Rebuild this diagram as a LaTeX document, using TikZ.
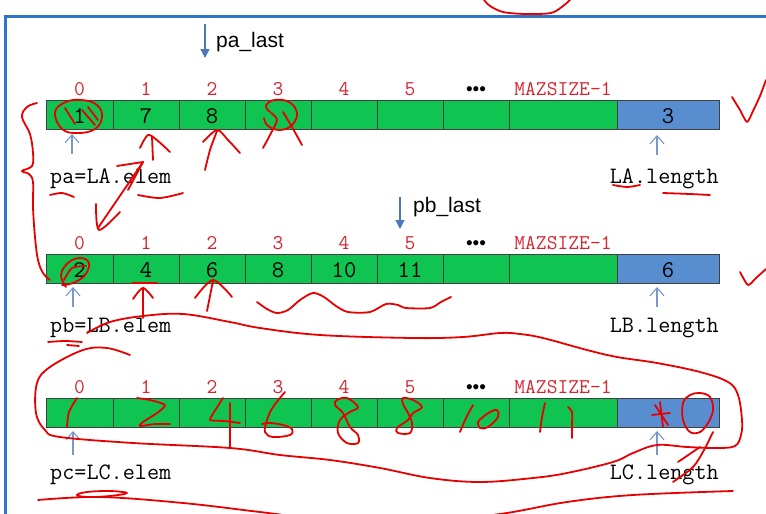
\documentclass[tikz,border=0pt]{standalone}
\usepackage{fontspec}
\setmainfont{Liberation Serif}
\newfontfamily\labelsans{Liberation Sans}
\usetikzlibrary{arrows.meta}

\definecolor{cellgreen}{RGB}{16,196,82}
\definecolor{cellblue}{RGB}{88,141,208}
\definecolor{idxred}{RGB}{214,36,48}
\definecolor{inkred}{RGB}{232,0,0}
\definecolor{framebl}{RGB}{46,117,200}
\definecolor{ptrblue}{RGB}{74,120,184}
\definecolor{upblue}{RGB}{120,152,204}

\tikzset{
  cell/.style={draw=black!75, line width=0.6pt, inner sep=0pt, minimum height=29pt,
    text height=18pt, text depth=0pt, font=\ttfamily\fontsize{24}{24}\selectfont},
  greencell/.style={cell, fill=cellgreen},
  lencell/.style={cell, fill=cellblue, minimum width=102pt},
  idx/.style={text=idxred, font=\ttfamily\fontsize{21}{21}\selectfont, anchor=base, inner sep=0pt},
  dots/.style={font=\labelsans\fontsize{19}{19}\selectfont, inner sep=0pt},
  lbl/.style={font=\ttfamily\fontsize{23.5}{23.5}\selectfont, anchor=base west, inner sep=0pt},
  lenlbl/.style={lbl, anchor=base east},
  ptr/.style={draw=ptrblue, line width=1.4pt, -{Triangle[length=9pt,width=9pt]}},
  ptrtext/.style={font=\labelsans\fontsize{21}{21}\selectfont, anchor=base west, inner sep=0pt},
  uparrow/.style={draw=upblue, line width=1.1pt, -{Straight Barb[length=8pt,width=14pt]}},
  ink/.style={draw=inkred, line width=1.8pt, line cap=round, line join=round},
}

\begin{document}
\begin{tikzpicture}[x=1pt,y=-1pt]
\useasboundingbox[fill=white] (0,0) rectangle (766,514);

% slide frame
\draw[framebl, line width=3pt] (5,514) -- (5,16) -- (766,16);

% the three arrays: LA, LB, LC
\foreach \i/\xl/\xr/\va/\vb in {0/46/113/1/2, 1/113/179/7/4, 2/179/245/8/6, 3/245/311/{}/8,
    4/311/377/{}/10, 5/377/443/{}/11, 6/443/509/{}/{}, 7/509/617/{}/{}}{
  \node[greencell, minimum width={(\xr-\xl)*1pt}] (A\i) at ({(\xl+\xr)/2},114.5) {\va};
  \node[greencell, minimum width={(\xr-\xl)*1pt}] (B\i) at ({(\xl+\xr)/2},268.5) {\vb};
  \node[greencell, minimum width={(\xr-\xl)*1pt}] (C\i) at ({(\xl+\xr)/2},412.5) {};
}
\node[lencell] (Alen) at (668,114.5) {3};
\node[lencell] (Blen) at (668,268.5) {6};
\node[lencell] (Clen) at (668,412.5) {};

% index labels above the cells
\foreach \r/\y in {A/95, B/249, C/393}{
  \foreach \i/\xc in {0/79.5, 1/146, 2/212, 3/278, 4/344, 5/410}{
    \node[idx] (\r idx\i) at (\xc,\y) {\i};
  }
  \node[dots] (\r dots) at (476,{\y-4}) {•••};
  \node[idx] (\r idxmax) at (563,\y) {MAZSIZE-1};
}

% last-element pointers
\coordinate (palast from) at (205,24);
\coordinate (palast to) at (205,58);
\draw[ptr] (palast from) -- (palast to);
\node[ptrtext] (palast) at (216,47) {pa\_last};
\coordinate (pblast from) at (400,197);
\coordinate (pblast to) at (400,229);
\draw[ptr] (pblast from) -- (pblast to);
\node[ptrtext] (pblast) at (413,212) {pb\_last};

% element pointers and lengths
\node[lbl] (pa) at (50,183) {pa=LA.elem};
\node[lenlbl] (lalen) at (719,183) {LA.length};
\node[lbl] (pb) at (50,332) {pb=LB.elem};
\node[lenlbl] (lblen) at (719,332) {LB.length};
\node[lbl] (pc) at (50,479) {pc=LC.elem};
\node[lenlbl] (lclen) at (719,479) {LC.length};

\coordinate (pa from) at (72,154);  \coordinate (pa to) at (72,134);
\coordinate (la from) at (657,155); \coordinate (la to) at (657,135);
\coordinate (pb from) at (73,307);  \coordinate (pb to) at (73,287);
\coordinate (lb from) at (657,307); \coordinate (lb to) at (657,287);
\coordinate (pc from) at (73,455);  \coordinate (pc to) at (73,431);
\coordinate (lc from) at (657,455); \coordinate (lc to) at (657,431);
\foreach \p in {pa,la,pb,lb,pc,lc}{
  \draw[uparrow] (\p\space from) -- (\p\space to);
}

% handwritten red notes
\begin{scope}
\clip (0,0) rectangle (766,514);
\draw[ink] plot[smooth] coordinates {(484,0) (490,6) (503,12) (525,14) (551,13) (563,6) (570,0)};

% row A
\draw[ink] plot[smooth cycle, tension=0.7] coordinates {(55,112) (66,102) (82,100) (97,105) (102,117) (95,129) (78,133) (62,129)};
\draw[ink] (65,108) -- (75,124);
\draw[ink] (82,110) -- (95,125);
\draw[ink] (88,107) -- (98,120);
\draw[ink] (152,137) -- (153,160);
\draw[ink] plot[smooth] coordinates {(140,148) (148,135) (158,141) (170,152)};
\draw[ink] plot[smooth] coordinates {(205,170) (210,150) (217,131)};
\draw[ink] plot[smooth] coordinates {(203,142) (217,130) (228,140) (240,153)};
\draw[ink] plot[smooth, tension=0.7] coordinates {(270,112) (266,106) (274,100) (289,102) (297,113) (292,125) (280,130) (268,126) (264,118)};
\draw[ink] plot[smooth] coordinates {(263,148) (270,135) (277,120) (271,113)};
\draw[ink] plot[smooth] coordinates {(283,112) (292,127) (302,145)};
\draw[ink] plot[smooth] coordinates {(50,195) (62,193) (74,197)};
\draw[ink] plot[smooth] coordinates {(138,195) (160,198) (183,193)};
\draw[ink] plot[smooth] coordinates {(613,185) (627,187) (640,185)};
\draw[ink] plot[smooth] coordinates {(663,193) (690,194) (710,195)};
\draw[ink] plot[smooth, tension=0.6] coordinates {(37,103) (27,107) (22,117) (30,134) (33,153) (32,166) (22,171) (29,174) (33,182) (33,207) (35,237) (38,260) (43,273) (50,280)};
\draw[ink] (98,228) -- (143,162);
\draw[ink] (117,166) -- (143,162) -- (128,190);
\draw[ink] plot[smooth] coordinates {(96,204) (99,230) (120,212)};
\draw[ink] plot[smooth, tension=0.4] coordinates {(732,97) (740,110) (747,122) (753,111) (760,96) (766,80)};
\draw[ink] plot[smooth, tension=0.4] coordinates {(740,272) (748,285) (756,278) (766,269)};

% row B
\draw[ink] plot[smooth, tension=0.7] coordinates {(66,287) (61,275) (68,263) (80,258) (89,263) (85,275) (73,283) (62,285)};
\draw[ink] plot[smooth] coordinates {(64,280) (72,268) (86,266)};
\draw[ink] (132,283) -- (157,283);
\draw[ink] (143,288) -- (143,318);
\draw[ink] plot[smooth] coordinates {(133,299) (143,288) (153,298)};
\draw[ink] plot[smooth] coordinates {(207,311) (210,296) (213,281)};
\draw[ink] plot[smooth] coordinates {(195,298) (213,280) (232,297)};
\draw[ink] plot[smooth, tension=0.5] coordinates {(257,302) (267,309) (277,313) (288,310) (300,300) (313,293) (324,297) (336,306) (348,312) (370,312) (386,304) (398,305) (406,308) (430,308) (441,302) (451,297)};
\draw[ink] plot[smooth] coordinates {(48,342) (65,341) (82,342)};
\draw[ink] (67,345) -- (79,346);

% loop round LC
\draw[ink] plot[smooth, tension=0.6] coordinates {(130,355) (107,348) (83,350) (50,367) (37,383) (36,413) (45,430) (60,437) (133,443) (230,448) (280,455) (330,460) (380,468) (430,478) (480,482) (533,478) (567,473) (613,462) (633,453) (657,445) (687,447) (717,448) (735,446) (741,435) (742,420) (738,395) (728,382) (700,372) (657,363) (617,357) (587,350) (543,338) (520,334) (500,333) (463,337) (413,338) (320,335) (260,328) (230,322) (183,314) (143,316) (110,322) (87,333)};
\draw[ink] (230,403) -- (230,448);

% merged values written into LC
\draw[ink] plot[smooth] coordinates {(67,427) (69,412) (77,398)};
\draw[ink] plot[smooth, tension=0.4] coordinates {(137,398) (150,400) (165,405) (157,413) (143,422) (140,426) (155,424) (170,424)};
\draw[ink] plot[smooth, tension=0.3] coordinates {(223,398) (216,409) (210,420) (225,421) (240,423)};
\draw[ink] plot[smooth, tension=0.6] coordinates {(285,392) (273,407) (267,420) (265,432) (273,437) (290,435) (292,429) (283,425) (270,423) (262,424)};
\draw[ink] plot[smooth cycle, tension=0.6] coordinates {(337,400) (347,398) (358,407) (350,412) (340,420) (338,433) (347,443) (358,443) (358,435) (350,427) (343,413) (335,405)};
\draw[ink] plot[smooth cycle, tension=0.6] coordinates {(403,398) (413,400) (422,407) (413,413) (408,420) (397,428) (398,433) (410,433) (412,423) (408,413) (403,404)};
\draw[ink] plot[smooth] coordinates {(460,432) (466,418) (473,405)};
\draw[ink] plot[smooth cycle, tension=0.6] coordinates {(478,422) (480,428) (488,427) (498,417) (497,410) (490,412) (483,417)};
\draw[ink] plot[smooth] coordinates {(540,432) (542,417) (545,403)};
\draw[ink] plot[smooth] coordinates {(568,407) (572,412) (572,425) (572,438)};
\draw[ink] (660,402) -- (663,427);
\draw[ink] (652,415) -- (670,413);
\draw[ink] (655,405) -- (668,425);
\draw[ink] plot[smooth cycle, tension=0.6] coordinates {(700,393) (710,397) (713,410) (708,423) (700,432) (690,432) (683,420) (683,403) (690,395)};
\draw[ink] plot[smooth] coordinates {(713,432) (704,450) (693,467) (673,482)};
\draw[ink] (678,462) -- (700,447);

% strokes below LC
\draw[ink] plot[smooth cycle, tension=0.6] coordinates {(77,495) (87,492) (110,491) (127,493) (110,496) (87,497)};
\draw[ink] plot[smooth, tension=0.6] coordinates {(38,500) (100,497) (183,503) (260,512) (330,520) (420,522) (500,514) (567,502) (633,495) (733,491)};
\end{scope}
\end{tikzpicture}
\end{document}
